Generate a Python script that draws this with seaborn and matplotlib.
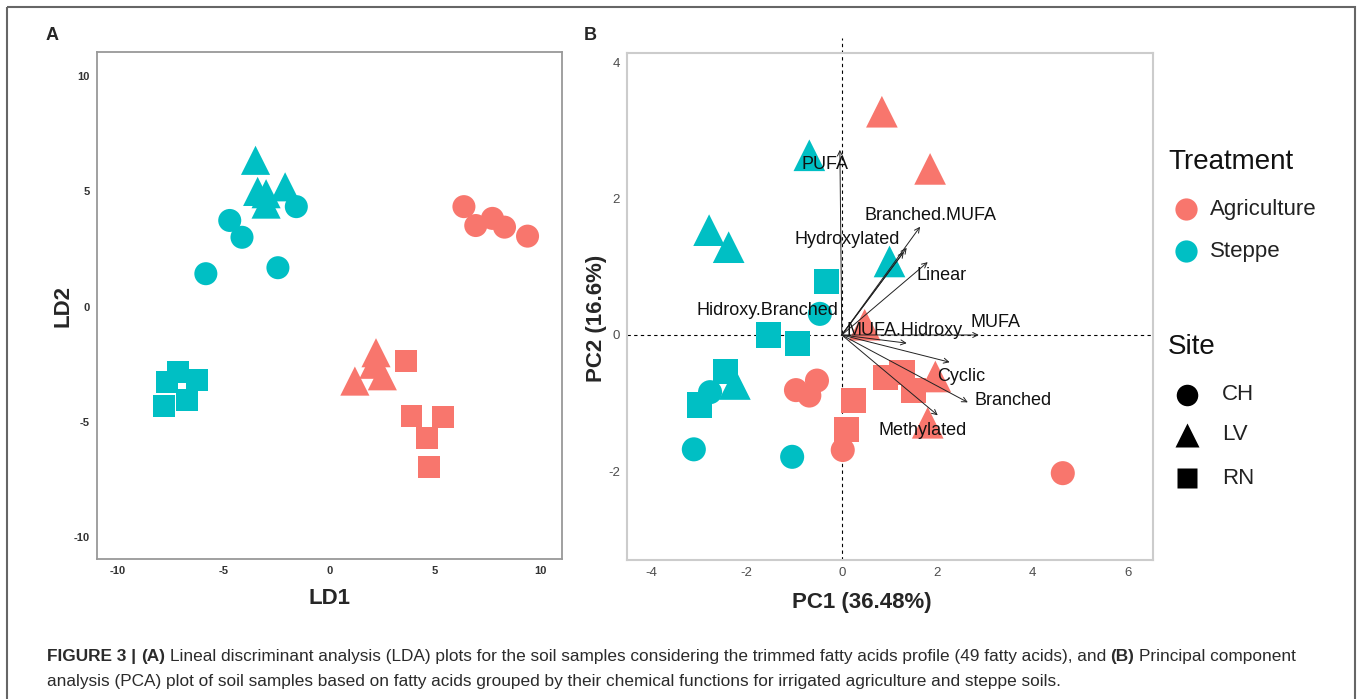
#%% imports
import numpy as np
import pandas as pd
import seaborn as sns
import matplotlib
matplotlib.use("Agg")
import matplotlib.pyplot as plt
from matplotlib.patches import Rectangle
from matplotlib import font_manager

#%% colours / style
sns.set_style("white")
plt.rcParams["font.family"] = ["Liberation Sans", "DejaVu Sans"]
plt.rcParams["axes.unicode_minus"] = False
treat_palette = {"Agriculture": "#F8766D", "Steppe": "#00BFC4"}
site_markers = {"CH": "o", "LV": "^", "RN": "s"}

#%% panel A - LDA scores
lda_ld1 = [6.36, 6.92, 7.71, 8.28, 9.37,
           2.2, 2.1, 1.2, 2.5,
           3.6, 3.88, 5.35, 4.6, 4.73,
           -4.72, -4.14, -5.85, -2.44, -1.57,
           -3.5, -3.4, -3.0, -2.1, -3.0,
           -7.17, -7.69, -6.29, -6.76, -7.81]
lda_ld2 = [4.34, 3.52, 3.83, 3.45, 3.06,
           -2.0, -2.5, -3.23, -3.0,
           -2.34, -4.74, -4.77, -5.68, -6.97,
           3.74, 3.01, 1.43, 1.69, 4.34,
           6.35, 5.0, 4.9, 5.2, 4.45,
           -2.85, -3.25, -3.2, -4.05, -4.31]
lda_treatment = ["Agriculture"] * 14 + ["Steppe"] * 15
lda_site = (["CH"] * 5 + ["LV"] * 4 + ["RN"] * 5 +
            ["CH"] * 5 + ["LV"] * 5 + ["RN"] * 5)

#%% panel B - PCA scores
pca_pc1 = [-0.96, -0.68, -0.52, 0.02, 4.63,
           0.84, 1.85, 0.48, 1.96, 1.8,
           0.92, 1.26, 1.5, 0.24, 0.1,
           -0.46, -2.76, -3.1, -1.04,
           -0.68, -2.78, -2.37, 1.0, -2.24,
           -0.32, -1.53, -0.93, -2.44, -2.98]
pca_pc2 = [-0.81, -0.89, -0.67, -1.69, -2.03,
           3.28, 2.44, 0.15, -0.61, -1.29,
           -0.62, -0.55, -0.82, -0.96, -1.39,
           0.31, -0.84, -1.68, -1.79,
           2.64, 1.54, 1.29, 1.08, -0.72,
           0.79, 0.0, -0.13, -0.54, -1.03]
pca_treatment = ["Agriculture"] * 15 + ["Steppe"] * 14
pca_site = (["CH"] * 5 + ["LV"] * 5 + ["RN"] * 5 +
            ["CH"] * 4 + ["LV"] * 5 + ["RN"] * 5)

# variable loadings (arrows) and where their labels sit
load_names = ["PUFA", "Branched.MUFA", "Hydroxylated", "Linear", "Hidroxy.Branched",
              "MUFA.Hidroxy", "MUFA", "Cyclic", "Branched", "Methylated"]
load_pc1 = [-0.04, 1.64, 1.36, 1.80, 1.30, 1.36, 2.87, 2.26, 2.64, 2.01]
load_pc2 = [2.72, 1.59, 1.28, 1.07, 1.22, -0.12, 0.0, -0.40, -0.99, -1.18]
label_pc1 = [-0.36, 1.86, 0.12, 2.08, -1.56, 1.32, 3.23, 2.50, 3.58, 1.70]
label_pc2 = [2.51, 1.76, 1.41, 0.87, 0.36, 0.06, 0.18, -0.61, -0.96, -1.41]

lda_df = pd.DataFrame({"LD1": lda_ld1, "LD2": lda_ld2,
                       "Treatment": lda_treatment, "Site": lda_site})
pca_df = pd.DataFrame({"PC1": pca_pc1, "PC2": pca_pc2,
                       "Treatment": pca_treatment, "Site": pca_site})

#%% figure
W, H = 1357, 699
fig = plt.figure(figsize=(W / 100, H / 100), dpi=100)

def px_axes(l, t, r, b):
    return fig.add_axes([l / W, 1 - b / H, (r - l) / W, (b - t) / H])

axA = px_axes(97, 52, 562, 559)
axB = px_axes(627, 52.5, 1153, 559.6)

# ---- A
sns.scatterplot(data=lda_df, x="LD1", y="LD2", hue="Treatment", style="Site",
                size="Site", sizes={"CH": 275, "LV": 440, "RN": 250},
                palette=treat_palette, markers=site_markers,
                linewidth=0, alpha=1, legend=False, ax=axA)
axA.set_xlim(-11, 11)
axA.set_ylim(-10.95, 11.05)
axA.set_xticks([-10, -5, 0, 5, 10])
axA.set_yticks([-10, -5, 0, 5, 10])
axA.tick_params(length=3, width=0.8, color="#888888", labelsize=8,
                labelcolor="#333333", pad=2)
for lab in axA.get_xticklabels() + axA.get_yticklabels():
    lab.set_fontweight("bold")
for sp in axA.spines.values():
    sp.set_color("#999999")
    sp.set_linewidth(1.3)
axA.set_xlabel("LD1", fontsize=16, fontweight="bold")
axA.set_ylabel("LD2", fontsize=16, fontweight="bold")
axA.xaxis.set_label_coords(0.5, -0.057)
axA.yaxis.set_label_coords(-0.05, 0.499)

# ---- B
sns.scatterplot(data=pca_df, x="PC1", y="PC2", hue="Treatment", style="Site",
                size="Site", sizes={"CH": 300, "LV": 520, "RN": 330},
                palette=treat_palette, markers=site_markers,
                linewidth=0, alpha=1, legend=False, ax=axB, zorder=2)
axB.set_xlim(-4.5, 6.52)
axB.set_ylim(-3.3, 4.15)
axB.axhline(0, color="black", ls=(0, (3, 3)), lw=0.8, zorder=1)
axB.plot([0, 0], [-3.3, 4.36], color="black", ls=(0, (3, 3)), lw=0.8,
         clip_on=False, zorder=1)
for i, name in enumerate(load_names):
    axB.annotate("", xy=(load_pc1[i], load_pc2[i]), xytext=(0, 0),
                 arrowprops=dict(arrowstyle="->", color="#222222", lw=0.7,
                                 shrinkA=0, shrinkB=0, mutation_scale=9),
                 zorder=3)
    axB.text(label_pc1[i], label_pc2[i], name, fontsize=13, color="#111111",
             ha="center", va="center", zorder=4)
axB.set_xticks([-4, -2, 0, 2, 4, 6])
axB.set_yticks([-2, 0, 2, 4])
axB.tick_params(length=3, width=0.8, color="#bbbbbb", labelsize=9.5,
                labelcolor="#4d4d4d", pad=2)
for sp in axB.spines.values():
    sp.set_color("#cccccc")
    sp.set_linewidth(1.5)
axB.set_xlabel("PC1 (36.48%)", fontsize=16, fontweight="bold")
axB.set_ylabel("PC2 (16.6%)", fontsize=16, fontweight="bold")
axB.xaxis.set_label_coords(0.447, -0.064)
axB.yaxis.set_label_coords(-0.038, 0.4755)

#%% overlay in pixel coordinates: border, panel letters, legend, caption
ov = fig.add_axes([0, 0, 1, 1], zorder=5)
ov.set_xlim(0, W)
ov.set_ylim(H, 0)
ov.axis("off")
ov.patch.set_alpha(0)

ov.add_patch(Rectangle((7, 7), 1348, 720, fill=False, ec="#666666", lw=1.5,
                       clip_on=False))
ov.text(52, 36, "A", fontsize=13, fontweight="bold", ha="center", va="center")
ov.text(590, 36, "B", fontsize=13, fontweight="bold", ha="center", va="center")

# legend
ov.text(1168, 162, "Treatment", fontsize=20, ha="left", va="center", color="#111111")
for yy, lab in zip([209, 251], treat_palette):
    ov.plot(1186, yy, "o", ms=16, color=treat_palette[lab], mec="none")
    ov.text(1210, yy, lab, fontsize=16, ha="left", va="center", color="#222222")
ov.text(1168, 347, "Site", fontsize=20, ha="left", va="center", color="#111111")
site_ms = {"CH": 15.5, "LV": 17, "RN": 14}
for yy, lab in zip([395, 435, 478], site_markers):
    ov.plot(1187, yy, site_markers[lab], ms=site_ms[lab], color="black", mec="none")
    ov.text(1222, yy, lab, fontsize=16, ha="left", va="center", color="#222222")

# caption, mixed bold / regular
try:
    font_manager.findfont(font_manager.FontProperties(family="Liberation Sans Narrow"),
                          fallback_to_default=False)
    cap_font = ["Liberation Sans Narrow", "DejaVu Sans"]
except ValueError:
    cap_font = ["Liberation Sans", "DejaVu Sans"]

line1 = [("FIGURE 3 |", "bold"), ("(A)", "bold"),
         ("Lineal discriminant analysis (LDA) plots for the soil samples considering "
          "the trimmed fatty acids profile (49 fatty acids), and", "normal"),
         ("(B)", "bold"), ("Principal component", "normal")]
line2 = [("analysis (PCA) plot of soil samples based on fatty acids grouped by their "
          "chemical functions for irrigated agriculture and steppe soils.", "normal")]

renderer = fig.canvas.get_renderer()

def text_width(s, size, weight):
    t = ov.text(0, 0, s, fontsize=size, fontweight=weight, family=cap_font)
    w = t.get_window_extent(renderer).width
    t.remove()
    return w

def draw_line(segs, x0, y, size):
    space = text_width("a a", size, "normal") - text_width("aa", size, "normal")
    x = x0
    for s, wgt in segs:
        ov.text(x, y, s, fontsize=size, fontweight=wgt, family=cap_font,
                ha="left", va="baseline", color="#2b2b2b")
        x += text_width(s, size, wgt) + space
    return x - space

def line_width(segs, size):
    space = text_width("a a", size, "normal") - text_width("aa", size, "normal")
    return sum(text_width(s, size, w) for s, w in segs) + space * (len(segs) - 1)

cap_size = 12 * (1292 - 47) / line_width(line1, 12)
draw_line(line1, 47, 661, cap_size)
draw_line(line2, 47, 686, cap_size)

fig.savefig("out.png", dpi=100)
